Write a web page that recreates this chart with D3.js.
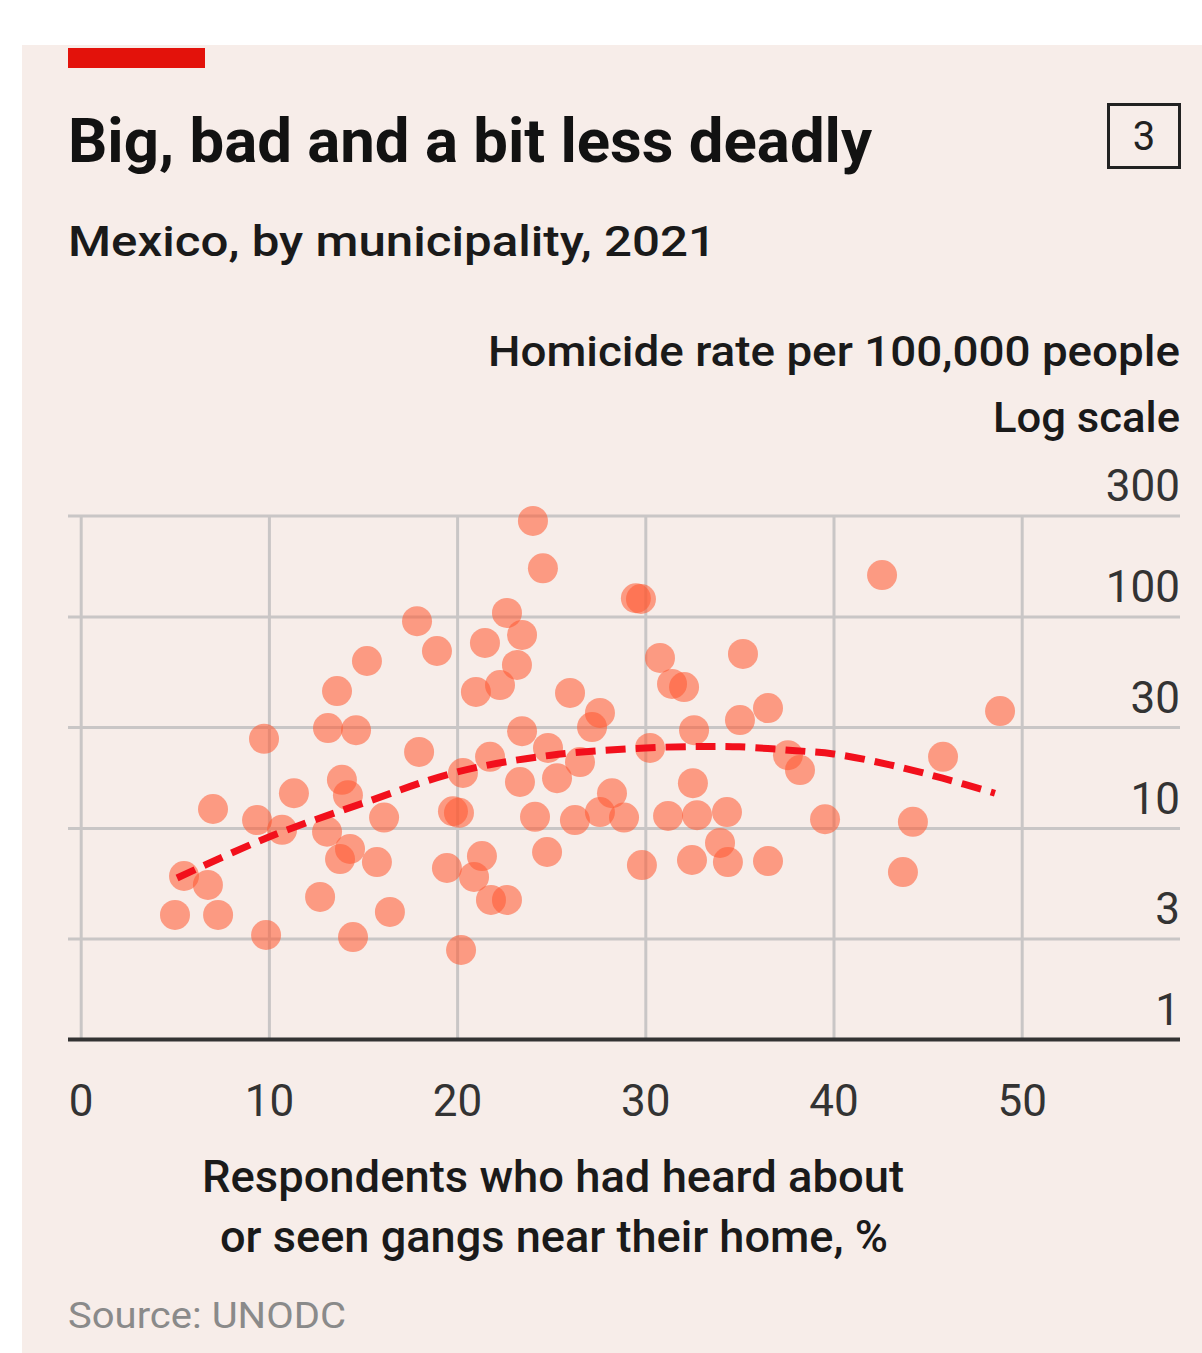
<!DOCTYPE html>
<html>
<head>
<meta charset="utf-8">
<script src="https://cdn.jsdelivr.net/npm/d3@7"></script>
<style>
  html, body { margin: 0; padding: 0; background: #ffffff; }
  svg { display: block; }
  text { font-family: Roboto, "Noto Sans", "DejaVu Sans", sans-serif; }
</style>
</head>
<body>
<svg id="chart" width="1202" height="1353"></svg>
<script>
// Share of respondents who had heard about or seen gangs near home (%)
const gangShare = [
  24.03, 24.56, 29.50, 29.77, 42.58, 17.87, 22.65, 18.93, 21.48, 23.45,
  15.21, 23.18, 30.78, 35.19, 13.62, 21.00, 22.28, 26.00, 31.42, 32.06,
  27.59, 27.17, 36.52, 35.03, 48.85, 13.14, 14.63, 9.74, 23.45, 32.59,
  17.98, 21.75, 24.83, 30.25, 37.58, 38.22, 45.82, 13.88, 11.33, 14.20,
  7.03, 9.37, 10.70, 13.09, 16.12, 19.78, 20.10, 20.31, 23.34, 25.31,
  24.14, 24.78, 26.26, 27.59, 28.23, 28.87, 31.21, 32.53, 32.75, 34.34,
  33.97, 39.55, 44.22, 5.49, 6.76, 5.01, 7.30, 9.85, 12.72, 13.78,
  14.31, 15.74, 16.43, 14.47, 19.46, 21.32, 20.90, 21.80, 22.65, 20.21,
  29.82, 32.48, 34.39, 36.52, 43.69, 26.53
];

// Homicide rate per 100,000 people, same order
const homicideRate = [
  283, 169, 122, 121, 157, 95, 104, 68.7, 75, 81.8,
  61.6, 59, 63.7, 66.5, 44.4, 44, 47.4, 43.5, 48, 46.4,
  35, 30, 36.9, 32.4, 35.7, 29.7, 29, 26.4, 28.7, 29,
  22.9, 21.7, 23.9, 23.9, 22.1, 18.8, 21.7, 16.9, 14.6, 14.3,
  12.3, 10.9, 9.8, 9.6, 11.2, 12.0, 11.8, 18.2, 16.5, 17.2,
  11.3, 7.7, 10.9, 11.9, 14.6, 11.2, 11.4, 16.3, 11.5, 11.9,
  8.5, 11.0, 10.7, 5.93, 5.38, 3.88, 3.88, 3.12, 4.72, 7.13,
  7.96, 6.9, 4.01, 3.05, 6.47, 7.37, 5.87, 4.57, 4.57, 2.65,
  6.68, 7.06, 6.9, 6.98, 6.19, 20.5
];

// Fitted trend, sampled along the x axis
const trendX = [5.12, 10, 15, 20, 25, 30, 33, 35, 38, 40, 43, 45.8, 48.58];
const trendY = [5.8, 9.07, 13.1, 18.4, 22.1, 23.9, 24.3, 24.2, 23.2, 22.4, 19.9, 17.2, 14.6];

const xTicks = [0, 10, 20, 30, 40, 50];
const yTicks = [1, 3, 10, 30, 100, 300];

const svg = d3.select("#chart");

// Panel background
svg.append("rect")
  .attr("x", 22).attr("y", 45)
  .attr("width", 1202 - 22).attr("height", 1353 - 45)
  .attr("fill", "#f7ede9");

// Red tag
svg.append("rect")
  .attr("x", 68).attr("y", 48)
  .attr("width", 137).attr("height", 20)
  .attr("fill", "#e3120b");

// Headline, subtitle
svg.append("text")
  .attr("x", 68).attr("y", 162)
  .attr("font-size", 62).attr("font-weight", 700)
  .attr("fill", "#121212")
  .attr("textLength", 804).attr("lengthAdjust", "spacingAndGlyphs")
  .text("Big, bad and a bit less deadly");

svg.append("text")
  .attr("x", 68).attr("y", 256)
  .attr("font-size", 42).attr("font-weight", 500)
  .attr("fill", "#1a1a1a")
  .attr("textLength", 648).attr("lengthAdjust", "spacingAndGlyphs")
  .text("Mexico, by municipality, 2021");

// Chart number box
svg.append("rect")
  .attr("x", 1108.5).attr("y", 104.5)
  .attr("width", 71).attr("height", 63)
  .attr("fill", "none").attr("stroke", "#222").attr("stroke-width", 3);
svg.append("text")
  .attr("x", 1144).attr("y", 150)
  .attr("text-anchor", "middle")
  .attr("font-size", 40).attr("fill", "#222")
  .text("3");

// Y axis title
svg.append("text")
  .attr("x", 1180).attr("y", 366)
  .attr("text-anchor", "end")
  .attr("font-size", 42).attr("font-weight", 500)
  .attr("fill", "#1a1a1a")
  .attr("textLength", 692).attr("lengthAdjust", "spacingAndGlyphs")
  .text("Homicide rate per 100,000 people");
svg.append("text")
  .attr("x", 1180).attr("y", 432)
  .attr("text-anchor", "end")
  .attr("font-size", 42).attr("font-weight", 500)
  .attr("fill", "#1a1a1a")
  .attr("textLength", 187).attr("lengthAdjust", "spacingAndGlyphs")
  .text("Log scale");

// Scales
const x = d3.scaleLinear().domain([0, 50]).range([80.7, 1021.7]);
const y = d3.scaleLog().domain([1, 300]).range([1039.5, 515.6]);

const gridLeft = 68, gridRight = 1180;

// Horizontal gridlines
const hGrid = svg.append("g")
  .attr("transform", `translate(${gridLeft},0)`)
  .call(d3.axisLeft(y).tickValues(yTicks.filter(d => d !== 1))
    .tickSize(-(gridRight - gridLeft)).tickFormat(""));
hGrid.select(".domain").remove();
hGrid.selectAll(".tick line").attr("stroke", "#c9c6c6").attr("stroke-width", 3);

// Vertical gridlines
const vGrid = svg.append("g")
  .attr("transform", `translate(0,${y(1)})`)
  .call(d3.axisBottom(x).tickValues(xTicks)
    .tickSize(-(y(1) - y(300))).tickFormat(""));
vGrid.select(".domain").remove();
vGrid.selectAll(".tick line").attr("stroke", "#c9c6c6").attr("stroke-width", 3);

// Y tick labels, sitting above each gridline at the right edge
const yAxis = svg.append("g")
  .attr("transform", `translate(${gridRight},0)`)
  .call(d3.axisRight(y).tickValues(yTicks).tickSize(0).tickFormat(d3.format("d")));
yAxis.select(".domain").remove();
yAxis.selectAll(".tick text")
  .attr("x", 0).attr("dy", -15)
  .attr("text-anchor", "end")
  .attr("font-size", 44)
  .attr("font-family", "Roboto, 'Noto Sans', sans-serif")
  .attr("fill", "#333");

// X tick labels
const xAxis = svg.append("g")
  .attr("transform", `translate(0,${y(1)})`)
  .call(d3.axisBottom(x).tickValues(xTicks).tickSize(0).tickFormat(d3.format("d")));
xAxis.select(".domain").remove();
xAxis.selectAll(".tick text")
  .attr("y", 76).attr("dy", 0)
  .attr("font-size", 44)
  .attr("font-family", "Roboto, 'Noto Sans', sans-serif")
  .attr("fill", "#333");

// Baseline
svg.append("line")
  .attr("x1", gridLeft).attr("x2", gridRight)
  .attr("y1", y(1)).attr("y2", y(1))
  .attr("stroke", "#333").attr("stroke-width", 4);

// Municipalities
const points = gangShare.map((g, i) => ({ g, h: homicideRate[i] }));
svg.append("g")
  .selectAll("circle")
  .data(points)
  .join("circle")
  .attr("cx", d => x(d.g))
  .attr("cy", d => y(d.h))
  .attr("r", 15)
  .attr("fill", "#ff5a32")
  .attr("fill-opacity", 0.56);

// Trend line
const trend = trendX.map((t, i) => [t, trendY[i]]);
svg.append("path")
  .datum(trend)
  .attr("fill", "none")
  .attr("stroke", "#f2101c")
  .attr("stroke-width", 7)
  .attr("stroke-dasharray", "20 10")
  .attr("d", d3.line().x(d => x(d[0])).y(d => y(d[1])).curve(d3.curveCatmullRom));

// X axis title
const xMid = 553;
svg.append("text")
  .attr("x", xMid).attr("y", 1192)
  .attr("text-anchor", "middle")
  .attr("font-size", 44).attr("font-weight", 500)
  .attr("fill", "#1a1a1a")
  .attr("textLength", 702).attr("lengthAdjust", "spacingAndGlyphs")
  .text("Respondents who had heard about");
svg.append("text")
  .attr("x", xMid + 1).attr("y", 1252)
  .attr("text-anchor", "middle")
  .attr("font-size", 44).attr("font-weight", 500)
  .attr("fill", "#1a1a1a")
  .attr("textLength", 668).attr("lengthAdjust", "spacingAndGlyphs")
  .text("or seen gangs near their home, %");

// Source
svg.append("text")
  .attr("x", 68).attr("y", 1328)
  .attr("font-size", 36).attr("fill", "#8a8a8a")
  .attr("textLength", 278).attr("lengthAdjust", "spacingAndGlyphs")
  .text("Source: UNODC");
</script>
</body>
</html>
